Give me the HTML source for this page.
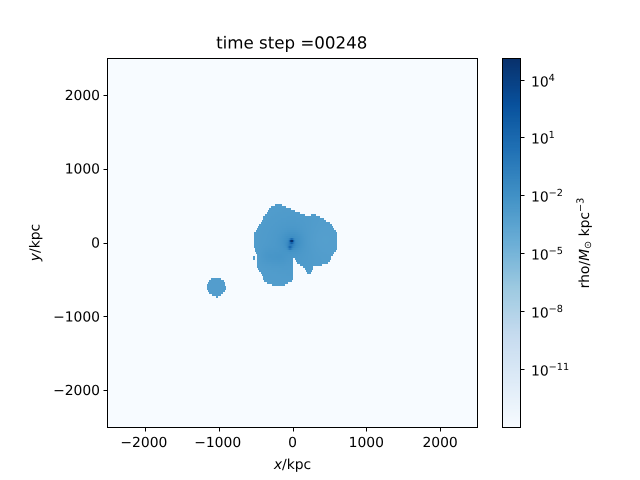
<!DOCTYPE html>
<html lang="en">
<head>
<meta charset="utf-8">
<title>time step =00248</title>
<style>
html,body{margin:0;padding:0;background:#fff;}
svg{display:block;}
text{font-family:"DejaVu Sans","Liberation Sans",sans-serif;fill:#000;text-rendering:geometricPrecision;}
</style>
</head>
<body>
<svg id="chart" xmlns="http://www.w3.org/2000/svg" width="640" height="480" viewBox="0 0 640 480">
  <rect x="0" y="0" width="640" height="480" fill="#ffffff"/>
  <text x="291.7" y="48.5" font-size="16.67" text-anchor="middle">time step =00248</text>
  <g id="heatmap"></g>
  <g id="colorbar"></g>
  <rect x="107.5" y="58.5" width="370" height="369" fill="none" stroke="#000" stroke-width="1"/>
  <rect x="502.5" y="58.5" width="18" height="369" fill="none" stroke="#000" stroke-width="1"/>
  <g id="axes"></g>
  <text x="292.5" y="469" font-size="13.89" text-anchor="middle"><tspan font-style="italic">x</tspan>/kpc</text>
  <text transform="translate(39.5,242.5) rotate(-90)" font-size="13.89" text-anchor="middle"><tspan font-style="italic">y</tspan>/kpc</text>
  <text transform="translate(589,243) rotate(-90)" font-size="13.89" text-anchor="middle">rho/<tspan font-style="italic">M</tspan><tspan font-size="9.7" dy="2">⊙</tspan><tspan dy="-2"> kpc</tspan><tspan font-size="9.7" dy="-5.5">−3</tspan></text>
</svg>
<script>
// Axis tick data
var xTicks = [-2000, -1000, 0, 1000, 2000];
var yTicks = [-2000, -1000, 0, 1000, 2000];
var colorbarExponents = [4, 1, -2, -5, -8, -11];

// Data ranges
var xDomain = [-2500, 2500];
var yDomain = [-2500, 2500];
var logRhoDomain = [-13.97, 5.14];
var gridColumns = [369];
var gridRows = [184.5];

// Occupied grid rows, with spans of occupied columns [start, end) in each row
var occupiedRows = [73,74,75,76,77,78,79,80,81,82,83,84,85,86,87,88,89,90,91,92,93,94,95,96,97,98,99,100,101,102,103,104,105,106,107,108,109,110,111,112,113,114,115,116,117,118,119];
var occupiedSpans = [
  [[167,174]],
  [[163,178]],
  [[161,183]],
  [[160,187]],
  [[159,192]],
  [[157,197],[203,208]],
  [[155,212]],
  [[155,216]],
  [[154,218]],
  [[153,222]],
  [[151,224]],
  [[150,225]],
  [[149,226]],
  [[148,228]],
  [[146,229]],
  [[146,229]],
  [[146,229]],
  [[146,229]],
  [[146,229]],
  [[146,229]],
  [[146,229]],
  [[146,229]],
  [[147,229]],
  [[147,228]],
  [[148,226]],
  [[149,225]],
  [[145,147],[149,223]],
  [[145,147],[149,185],[187,223]],
  [[149,185],[188,222]],
  [[149,185],[189,220]],
  [[149,185],[192,214]],
  [[149,185],[195,205]],
  [[150,185],[197,205]],
  [[151,185],[198,204]],
  [[153,185],[199,203]],
  [[154,185]],
  [[155,185]],
  [[103,113],[155,185]],
  [[101,116],[156,184]],
  [[100,117],[159,180]],
  [[99,117],[164,177]],
  [[99,118]],
  [[99,118]],
  [[100,117]],
  [[101,115]],
  [[104,113]],
  [[108,110]]
];

// Log density of the diffuse gas and of the localised clumps
var backgroundLogRho = [-14];
var gasLogRho = [-3.0];
var clumpX = [-11, -5, -34, -20, -330, -170, 372, 0];
var clumpY = [20, 10, -70, -30, -190, -210, 30, 0];
var clumpAmp = [7.5, 0.9, 2.5, 1.2, 0.35, 0.3, -0.3, 0.5];
var clumpWidth = [18, 90, 18, 35, 80, 70, 160, 300];

// Blues colormap anchors
var blues = [[247,251,255],[222,235,247],[198,219,239],[158,202,225],[107,174,214],[66,146,198],[33,113,181],[8,81,156],[8,48,107]];

// Axis functions
var plotLeft = 108, plotRight = 477, plotTop = 58, plotBottom = 427;
function xScale(v){ return plotLeft + (v - xDomain[0]) / (xDomain[1] - xDomain[0]) * (plotRight - plotLeft); }
function yScale(v){ return plotBottom - (v - yDomain[0]) / (yDomain[1] - yDomain[0]) * (plotBottom - plotTop); }
function logScale(v){ return plotBottom - (v - logRhoDomain[0]) / (logRhoDomain[1] - logRhoDomain[0]) * (plotBottom - plotTop); }
function colorFor(logRho){
  var t = (logRho - logRhoDomain[0]) / (logRhoDomain[1] - logRhoDomain[0]);
  t = Math.max(0, Math.min(1, t));
  var p = t * (blues.length - 1), k = Math.min(blues.length - 2, Math.floor(p)), f = p - k;
  var c = [0,1,2].map(function(n){ return Math.round(blues[k][n] + (blues[k+1][n] - blues[k][n]) * f); });
  return 'rgb(' + c.join(',') + ')';
}
var NS = 'http://www.w3.org/2000/svg';
function make(tag, attrs, parent){
  var el = document.createElementNS(NS, tag);
  for (var a in attrs) el.setAttribute(a, attrs[a]);
  parent.appendChild(el);
  return el;
}

// Heatmap
var heatmap = document.getElementById('heatmap');
var background = make('rect', {x: plotLeft, y: plotTop, width: plotRight - plotLeft, height: plotBottom - plotTop, fill: colorFor(backgroundLogRho[0])}, heatmap);


var cellKpcX = (xDomain[1] - xDomain[0]) / gridColumns[0];
var cellKpcY = (yDomain[1] - yDomain[0]) / gridRows[0];
function cellLogRho(xk, yk){
  var v = gasLogRho[0];
  for (var c = 0; c < clumpX.length; c++){
    var dx = xk - clumpX[c], dy = yk - clumpY[c], w = clumpWidth[c];
    v += clumpAmp[c] * Math.exp(-(dx*dx + dy*dy) / (2*w*w));
  }
  return v;
}
occupiedRows.forEach(function(row, r){
  occupiedSpans[r].forEach(function(span){
    for (var col = span[0]; col < span[1]; col++){
      var x0 = xDomain[0] + col * cellKpcX, x1 = x0 + cellKpcX;
      var y0 = yDomain[1] - row * cellKpcY, y1 = y0 - cellKpcY;
      var cell = make('rect', {
        x: xScale(x0).toFixed(2), y: yScale(y0).toFixed(2),
        width: (xScale(x1) - xScale(x0)).toFixed(2),
        height: (yScale(y1) - yScale(y0)).toFixed(2),
        fill: colorFor(cellLogRho((x0 + x1) / 2, (y0 + y1) / 2)),
        'shape-rendering': 'crispEdges'
      }, heatmap);
      
      
    }
  });
});

// Colorbar gradient
var colorbar = document.getElementById('colorbar');
for (var s = 0; s < 256; s++){
  var lo = logRhoDomain[0] + (logRhoDomain[1] - logRhoDomain[0]) * s / 256;
  var hi = logRhoDomain[0] + (logRhoDomain[1] - logRhoDomain[0]) * (s + 1) / 256;
  var strip = make('rect', {x: 503, y: logScale(hi).toFixed(2), width: 17, height: (logScale(lo) - logScale(hi) + 0.4).toFixed(2), fill: colorFor((lo + hi) / 2)}, colorbar);
  
  
}

// Ticks and labels
var axes = document.getElementById('axes');
function fmt(v){ return v < 0 ? '\u2212' + Math.abs(v) : String(v); }
xTicks.forEach(function(v){
  var px = Math.round(xScale(v)) + 0.5;
  var t = make('line', {x1: px, x2: px, y1: 427.5, y2: 431.5, stroke: '#000', 'stroke-width': 1}, axes);
  
  
  var l = make('text', {x: xScale(v) - (v < 0 ? 1 : 0), y: 447, 'font-size': 13.89, 'text-anchor': 'middle'}, axes);
  
  
  l.textContent = fmt(v);
});
yTicks.forEach(function(v){
  var py = Math.round(yScale(v)) + 0.5;
  var t = make('line', {x1: 103.5, x2: 107.5, y1: py, y2: py, stroke: '#000', 'stroke-width': 1}, axes);
  
  
  var l = make('text', {x: 100, y: yScale(v) + 5, 'font-size': 13.89, 'text-anchor': 'end'}, axes);
  
  
  l.textContent = fmt(v);
});
colorbarExponents.forEach(function(e){
  var py = Math.round(logScale(e) - 0.5) + 0.5;
  var t = make('line', {x1: 520.5, x2: 524.5, y1: py, y2: py, stroke: '#000', 'stroke-width': 1}, axes);
  
  
  var l = make('text', {x: 531, y: py + 6, 'font-size': 13.89}, axes);
  
  
  l.appendChild(document.createTextNode('10'));
  var sup = make('tspan', {'font-size': 9.72, dy: -5.5}, l);
  sup.textContent = fmt(e);
});
</script>
</body>
</html>
